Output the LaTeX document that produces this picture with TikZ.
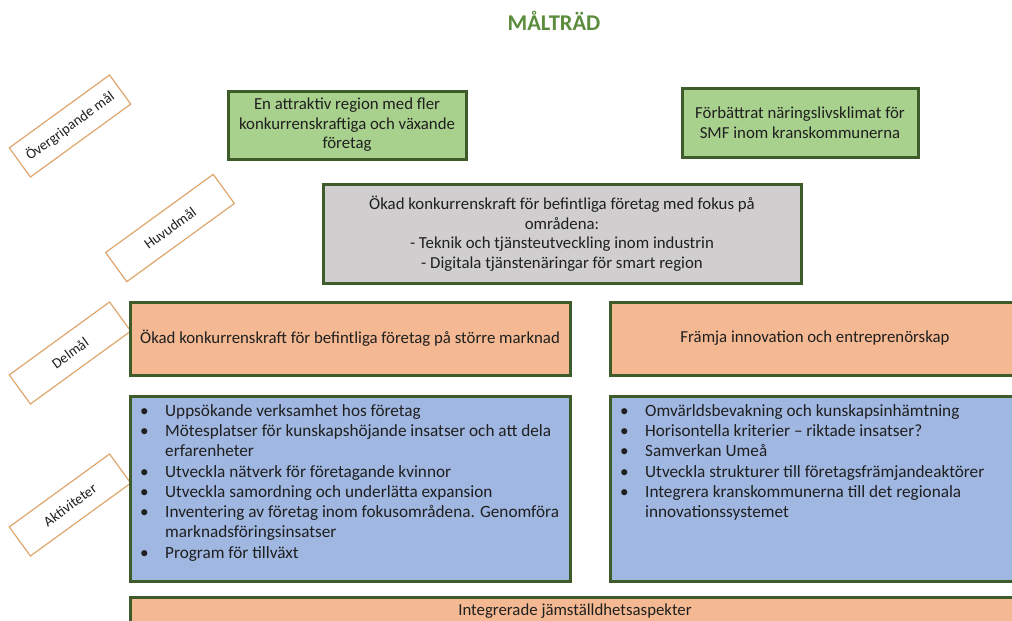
\documentclass[tikz,border=0pt]{standalone}
\usepackage{fontspec}
\setmainfont{Carlito}
\definecolor{titlegreen}{HTML}{5A8C3C}
\definecolor{boxline}{HTML}{3E5B2A}
\definecolor{goalgreen}{HTML}{A9D18E}
\definecolor{maingrey}{HTML}{D0CECE}
\definecolor{suborange}{HTML}{F4B993}
\definecolor{actblue}{HTML}{A0B7E1}
\definecolor{levelline}{HTML}{DEA66E}
\newcommand{\itm}{\makebox[25pt][l]{\textbullet}}
\newcommand{\cnt}{\hspace*{25pt}}
\begin{document}
\begin{tikzpicture}[x=1pt, y=-1pt, font=\fontsize{16.8}{19.5}\selectfont, text=black!88,
    box/.style={draw=boxline, line width=3pt, outer sep=0pt, inner sep=0pt, align=center},
    goalbox/.style={box, fill=goalgreen},
    mainbox/.style={box, fill=maingrey},
    subbox/.style={box, fill=suborange},
    actbox/.style={box, fill=actblue},
    acttext/.style={anchor=north west, inner sep=0pt, align=left, font=\fontsize{17.2}{20.3}\selectfont},
    level/.style={draw=levelline, line width=1.2pt, fill=white, rotate=36, minimum width=124, minimum height=36, font=\fontsize{14.5}{16}\selectfont}]
\useasboundingbox (0,0) rectangle (1012,621);
\node[font=\fontsize{22.5}{26}\selectfont\bfseries, text=titlegreen] (title) at (554,21) {MÅLTRÄD};
\node[level] (lvlA) at (70,126) {Övergripande mål};
\node[level, minimum width=133] (lvlB) at (170,228) {Huvudmål};
\node[level] (lvlC) at (70,353) {Delmål};
\node[level] (lvlD) at (70,505) {Aktiviteter};
\node[goalbox, minimum width=238, minimum height=68] (goalA) at (347,125) {En attraktiv region med fler\\konkurrenskraftiga och växande\\företag};
\node[goalbox, minimum width=236, minimum height=69] (goalB) at (800,122.5) {Förbättrat näringslivsklimat för\\SMF inom kranskommunerna};
\node[mainbox, minimum width=478, minimum height=99] (main) at (562,233.5) {Ökad konkurrenskraft för befintliga företag med fokus på\\områdena:\\- Teknik och tjänsteutveckling inom industrin\\- Digitala tjänstenäringar för smart region};
\node[subbox, minimum width=440, minimum height=73] (subA) at (350,338.5) {Ökad konkurrenskraft för befintliga företag på större marknad};
\node[subbox, minimum width=410, minimum height=73] (subB) at (815,338.5) {Främja innovation och entreprenörskap};
\node[actbox, minimum width=440, minimum height=185] (actA) at (350,488.5) {};
\node[actbox, minimum width=410, minimum height=185] (actB) at (815,488.5) {};
\node[acttext] (actAtxt) at ([xshift=10pt, yshift=-8pt]actA.north west) {\itm Uppsökande verksamhet hos företag\\
  \itm Mötesplatser för kunskapshöjande insatser och att dela\\
  \cnt erfarenheter\\
  \itm Utveckla nätverk för företagande kvinnor\\
  \itm Utveckla samordning och underlätta expansion\\
  \itm Inventering av företag inom fokusområdena. Genomföra\\
  \cnt marknadsföringsinsatser\\
  \itm Program för tillväxt};
\node[acttext] (actBtxt) at ([xshift=10pt, yshift=-8pt]actB.north west) {\itm Omvärldsbevakning och kunskapsinhämtning\\
  \itm Horisontella kriterier -- riktade insatser?\\
  \itm Samverkan Umeå\\
  \itm Utveckla strukturer till företagsfrämjandeaktörer\\
  \itm Integrera kranskommunerna till det regionala\\
  \cnt innovationssystemet};
\node[subbox, minimum width=890, minimum height=28] (gender) at (575,611) {Integrerade jämställdhetsaspekter};
\end{tikzpicture}
\end{document}
